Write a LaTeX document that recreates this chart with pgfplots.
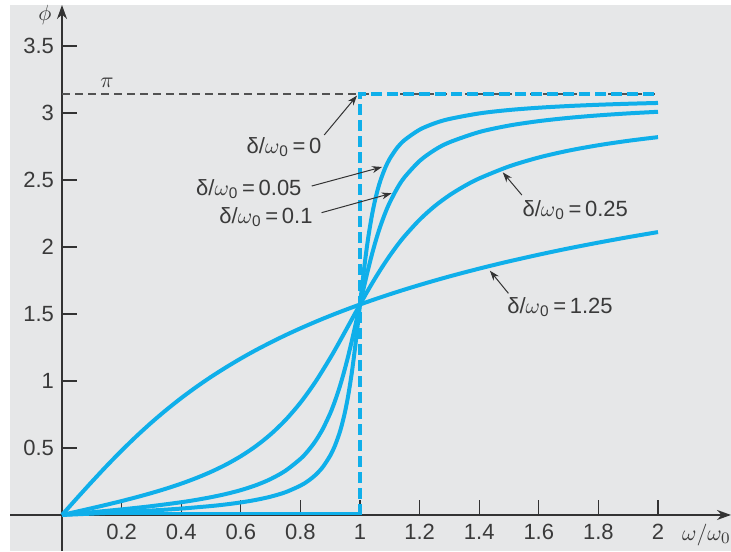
\documentclass[border=0pt]{standalone}
\usepackage{fontspec}
\setmainfont{Liberation Sans}
\usepackage{pgfplots}
\pgfplotsset{compat=1.18}
\usetikzlibrary{arrows.meta}
\definecolor{bggray}{HTML}{E6E7E8}
\definecolor{cy}{HTML}{0FAFEA}
\definecolor{axgray}{HTML}{333333}
\definecolor{txt}{HTML}{3A3A3A}
\newcommand\lf{\fontsize{11}{13}\selectfont}
\begin{document}
\begin{tikzpicture}
\begin{axis}[
  scale only axis, width=360.5pt, height=273pt,
  xmin=-0.1745, xmax=2.245, ymin=-0.269, ymax=3.806,
  axis lines=middle,
  axis line style={draw=axgray, line width=0.9pt, -{Stealth[length=7pt,width=5pt]}},
  axis background/.style={fill=bggray},
  xtick={0.2,0.4,0.6,0.8,1,1.2,1.4,1.6,1.8,2},
  xticklabels={0.2,0.4,0.6,0.8,1,1.2,1.4,1.6,1.8,2},
  ytick={0.5,1,1.5,2,2.5,3,3.5},
  yticklabels={0.5,1,1.5,2,2.5,3,3.5},
  tick align=inside, major tick length=7.5pt,
  tick style={draw=axgray, line width=0.6pt},
  tick label style={font=\lf, text=txt},
  /pgf/number format/assume math mode=true,
  xticklabel style={yshift=-1pt},
  yticklabel style={xshift=-0.5pt},
  clip=false,
]
% pi reference line
\addplot[draw=axgray!85, line width=0.8pt, dash pattern=on 4pt off 2.5pt] coordinates {(0,3.1416) (2,3.1416)};
% delta/omega0 = 0
\addplot[cy, line width=1.5pt] coordinates {(0,0.008) (1,0.008)};
\addplot[cy, line width=1.6pt, dash pattern=on 5.5pt off 2.5pt] coordinates {(1,0) (1,3.1416) (2,3.1416)};
% delta/omega0 = 0.05
\addplot[cy, line width=2pt, smooth] coordinates {
(0,0) (0.1,0.0101) (0.2,0.0208) (0.3,0.0330) (0.4,0.0476) (0.5,0.0666) (0.55,0.0787) (0.6,0.0935) (0.65,0.1121) (0.7,0.1364) (0.75,0.1698) (0.8,0.2187) (0.825,0.2528) (0.85,0.2973) (0.875,0.3573) (0.9,0.4429) (0.915,0.5121) (0.93,0.6029) (0.94,0.6795) (0.95,0.7725) (0.96,0.8857) (0.97,1.0236) (0.975,1.1022) (0.98,1.1864) (0.985,1.2775) (0.99,1.3725) (0.995,1.4709) (1,1.5708) (1.005,1.6703) (1.01,1.7672) (1.015,1.8604) (1.02,1.9479) (1.025,2.0299) (1.03,2.1046) (1.04,2.2360) (1.05,2.3441) (1.06,2.4327) (1.07,2.5055) (1.085,2.5923) (1.1,2.6593) (1.125,2.7414) (1.15,2.7989) (1.2,2.8754) (1.25,2.9229) (1.3,2.9554) (1.4,2.9968) (1.5,3.0222) (1.6,3.0394) (1.7,3.0519) (1.8,3.0614) (1.9,3.0689) (2,3.0750)};
% delta/omega0 = 0.1
\addplot[cy, line width=2pt, smooth] coordinates {
(0,0) (0.1,0.0202) (0.2,0.0416) (0.3,0.0658) (0.4,0.0950) (0.45,0.1124) (0.5,0.1326) (0.55,0.1564) (0.6,0.1853) (0.65,0.2214) (0.7,0.2679) (0.75,0.3303) (0.8,0.4182) (0.825,0.4769) (0.85,0.5496) (0.875,0.6413) (0.9,0.7583) (0.915,0.8439) (0.93,0.9426) (0.94,1.0165) (0.95,1.0966) (0.96,1.1826) (0.97,1.2751) (0.98,1.3714) (0.99,1.4706) (1,1.5708) (1.01,1.6700) (1.02,1.7663) (1.03,1.8581) (1.04,1.9444) (1.05,2.0247) (1.06,2.0989) (1.07,2.1659) (1.085,2.2560) (1.1,2.3329) (1.125,2.4387) (1.15,2.5221) (1.2,2.6420) (1.25,2.7234) (1.3,2.7812) (1.4,2.8578) (1.5,2.9061) (1.6,2.9393) (1.7,2.9636) (1.8,2.9822) (1.9,2.9970) (2,3.0090)};
% delta/omega0 = 0.25
\addplot[cy, line width=2pt, smooth] coordinates {
(0,0) (0.05,0.0251) (0.1,0.0505) (0.15,0.0766) (0.2,0.1038) (0.25,0.1326) (0.3,0.1634) (0.35,0.1968) (0.4,0.2337) (0.45,0.2750) (0.5,0.3218) (0.55,0.3755) (0.6,0.4385) (0.65,0.5126) (0.7,0.6015) (0.75,0.7086) (0.8,0.8380) (0.85,0.9920) (0.9,1.1711) (0.925,1.2679) (0.95,1.3684) (0.975,1.4698) (1,1.5708) (1.025,1.6693) (1.05,1.7636) (1.075,1.8524) (1.1,1.9353) (1.125,2.0119) (1.15,2.0818) (1.2,2.2034) (1.25,2.3036) (1.3,2.3859) (1.35,2.4540) (1.4,2.5115) (1.5,2.6012) (1.6,2.6679) (1.7,2.7191) (1.8,2.7594) (1.9,2.7924) (2,2.8198)};
% delta/omega0 = 1.25
\addplot[cy, line width=2pt, smooth] coordinates {
(0,0) (0.05,0.1247) (0.1,0.2473) (0.15,0.3663) (0.2,0.4802) (0.25,0.5880) (0.3,0.6894) (0.35,0.7840) (0.4,0.8722) (0.45,0.9541) (0.5,1.0304) (0.55,1.1010) (0.6,1.1675) (0.65,1.2295) (0.7,1.2870) (0.75,1.3417) (0.8,1.3927) (0.85,1.4410) (0.9,1.4866) (0.95,1.5298) (1,1.5708) (1.05,1.6098) (1.1,1.6470) (1.15,1.6825) (1.2,1.7164) (1.25,1.7489) (1.3,1.7801) (1.35,1.8099) (1.4,1.8385) (1.45,1.8661) (1.5,1.8926) (1.6,1.9426) (1.7,1.9894) (1.8,2.0326) (1.9,2.0733) (2,2.1112)};
% labels
\node[text=txt, font=\lf] at (axis cs:-0.057,3.73) {$\phi$};
\node[text=txt, font=\lf] at (axis cs:0.151,3.224) {$\pi$};
\node[text=txt, font=\lf, anchor=east, inner sep=0pt] at (axis cs:2.245,-0.15) {$\omega/\omega_0$};
\tikzset{ann/.style={draw=axgray, line width=0.5pt, -{Stealth[length=5pt,width=3.5pt]}}}
\node[text=txt, font=\lf, anchor=east, inner sep=0pt] at (axis cs:0.872,2.746) {δ/$\omega$\textsubscript{0}\,=\,0};
\draw[ann] (axis cs:0.880,2.836) -- (axis cs:0.990,3.130);
\node[text=txt, font=\lf, anchor=east, inner sep=0pt] at (axis cs:0.805,2.433) {δ/$\omega$\textsubscript{0}\,=\,0.05};
\draw[ann] (axis cs:0.838,2.455) -- (axis cs:1.074,2.597);
\node[text=txt, font=\lf, anchor=east, inner sep=0pt] at (axis cs:0.842,2.224) {δ/$\omega$\textsubscript{0}\,=\,0.1};
\draw[ann] (axis cs:0.871,2.256) -- (axis cs:1.106,2.401);
\node[text=txt, font=\lf, anchor=west, inner sep=0pt] at (axis cs:1.544,2.276) {δ/$\omega$\textsubscript{0}\,=\,0.25};
\draw[ann] (axis cs:1.543,2.388) -- (axis cs:1.479,2.557);
\node[text=txt, font=\lf, anchor=west, inner sep=0pt] at (axis cs:1.493,1.552) {δ/$\omega$\textsubscript{0}\,=\,1.25};
\draw[ann] (axis cs:1.498,1.654) -- (axis cs:1.436,1.823);
\coordinate (sw) at (rel axis cs:0,0);
\coordinate (ne) at (rel axis cs:1,1);
\end{axis}
\pgfresetboundingbox
\path ([xshift=-5pt]sw) rectangle ([yshift=2.5pt]ne);
\end{tikzpicture}
\end{document}
